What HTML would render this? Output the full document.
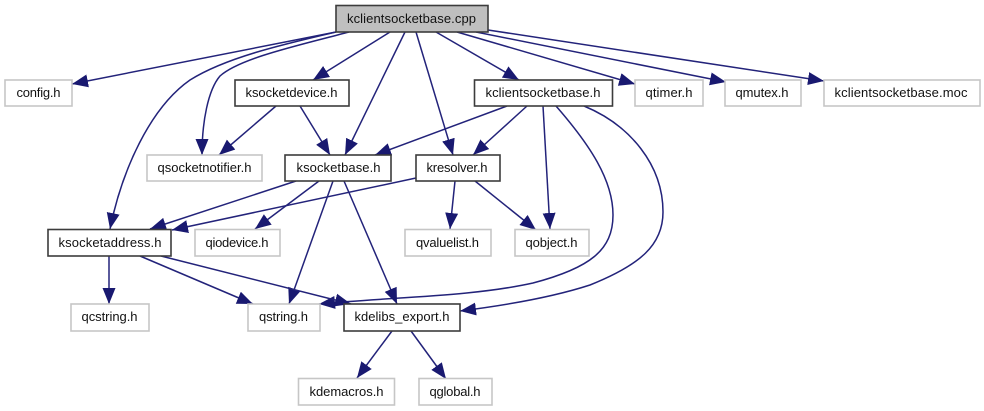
<!DOCTYPE html>
<html><head><meta charset="utf-8"><style>
html,body{margin:0;padding:0;background:#fff;width:984px;height:411px;overflow:hidden}
svg{display:block}
text{font-family:"Liberation Sans",sans-serif;font-size:13px;fill:#111}
.e{fill:none;stroke:#23237a;stroke-width:1.5;marker-end:url(#a)}
.k{fill:#fff;stroke:#3c3c3c;stroke-width:1.6}
.g{fill:#fff;stroke:#c6c6c6;stroke-width:1.6}
</style></head><body>
<svg width="984" height="411" viewBox="0 0 984 411" xmlns="http://www.w3.org/2000/svg">
<defs><marker id="a" markerUnits="userSpaceOnUse" markerWidth="18" markerHeight="15" refX="16" refY="7" orient="auto"><path d="M0,0.500L16,7L0,13.500Z" fill="#191970"/></marker></defs>
<path class="e" d="M336,32L72,84"/>
<path class="e" d="M336,32C280,45 225,58 190,80C150,108 122,170 110,229"/>
<path class="e" d="M349,32C300,45 240,58 220,76C208,90 202,122 202,155"/>
<path class="e" d="M390,32L313,80"/>
<path class="e" d="M405,32L345,155"/>
<path class="e" d="M416,32L453,155"/>
<path class="e" d="M436,32L519,80"/>
<path class="e" d="M457,32L635,84"/>
<path class="e" d="M476,32L726,82"/>
<path class="e" d="M488,30L824,81"/>
<path class="e" d="M276,106L219,155"/>
<path class="e" d="M300,106L330,155"/>
<path class="e" d="M507,106L375,155"/>
<path class="e" d="M527,106L473,155"/>
<path class="e" d="M543,106L550,229"/>
<path class="e" d="M556,106C590,145 613,180 613,215C613,250 590,268 533,283C470,297 390,297 319,304"/>
<path class="e" d="M584,106C630,125 663,165 663,212C663,245 640,265 590,285C550,298 500,306 460,311"/>
<path class="e" d="M296,181L150,229"/>
<path class="e" d="M416,178L172,230"/>
<path class="e" d="M319,181L255,229"/>
<path class="e" d="M333,181L289,304"/>
<path class="e" d="M344,181L397,304"/>
<path class="e" d="M455,181L450,229"/>
<path class="e" d="M475,181L536,230"/>
<path class="e" d="M109,256L109,304"/>
<path class="e" d="M140,256L253,304"/>
<path class="e" d="M161,256L351,304"/>
<path class="e" d="M392,331L357,378"/>
<path class="e" d="M411,331L446,379"/>

<rect x="336" y="5.500" width="152" height="26.500" fill="#bfbfbf" stroke="#3c3c3c" stroke-width="1.600"/>
<text x="347" y="23" textLength="129">kclientsocketbase.cpp</text>
<rect class="g" x="5" y="80" width="67" height="26"/><text x="16.500" y="97" textLength="44">config.h</text>
<rect class="k" x="235" y="80" width="114" height="26"/><text x="245.500" y="97" textLength="92">ksocketdevice.h</text>
<rect class="k" x="474.500" y="80" width="138" height="26"/><text x="485.500" y="97" textLength="115">kclientsocketbase.h</text>
<rect class="g" x="635" y="80" width="68" height="26"/><text x="645.500" y="97" textLength="47">qtimer.h</text>
<rect class="g" x="725" y="80" width="76" height="26"/><text x="735.500" y="97" textLength="53">qmutex.h</text>
<rect class="g" x="824" y="80" width="156" height="26"/><text x="834.500" y="97" textLength="133">kclientsocketbase.moc</text>
<rect class="g" x="147" y="155" width="115" height="26"/><text x="157.500" y="172" textLength="94">qsocketnotifier.h</text>
<rect class="k" x="285" y="155" width="106" height="26"/><text x="296.500" y="172" textLength="84">ksocketbase.h</text>
<rect class="k" x="416" y="155" width="84" height="26"/><text x="426.500" y="172" textLength="61">kresolver.h</text>
<rect class="k" x="48" y="229.500" width="123" height="26.500"/><text x="58.500" y="247" textLength="103">ksocketaddress.h</text>
<rect class="g" x="195" y="229.500" width="85" height="26.500"/><text x="205.500" y="247" textLength="63">qiodevice.h</text>
<rect class="g" x="405" y="229.500" width="86" height="26.500"/><text x="416" y="247" textLength="63">qvaluelist.h</text>
<rect class="g" x="515" y="229.500" width="74" height="26.500"/><text x="525.500" y="247" textLength="52">qobject.h</text>
<rect class="g" x="71" y="304" width="78" height="27"/><text x="81.500" y="321" textLength="56">qcstring.h</text>
<rect class="g" x="248" y="304" width="72" height="27"/><text x="259" y="321" textLength="49">qstring.h</text>
<rect class="k" x="344" y="304" width="116" height="27"/><text x="354.500" y="321" textLength="95">kdelibs_export.h</text>
<rect class="g" x="298.500" y="378.500" width="96" height="26.500"/><text x="309.500" y="396" textLength="74">kdemacros.h</text>
<rect class="g" x="419" y="378.500" width="73" height="26.500"/><text x="429.500" y="396" textLength="51">qglobal.h</text>
</svg>
</body></html>
